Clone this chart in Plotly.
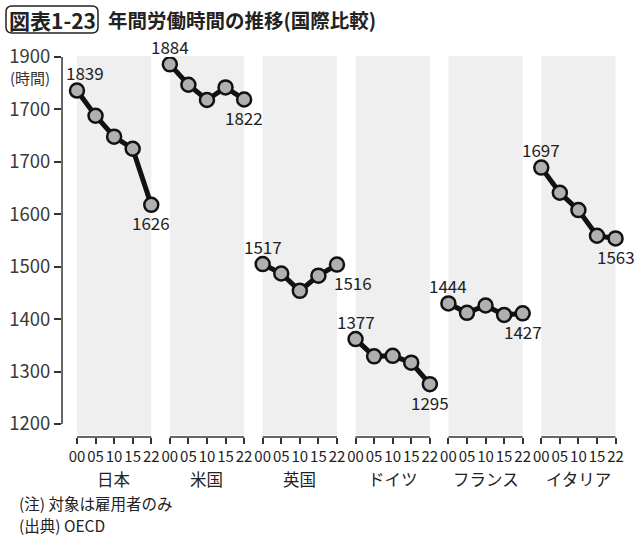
import plotly.graph_objects as go

# ---- data ----
countries = ["日本", "米国", "英国", "ドイツ", "フランス", "イタリア"]
years = ["00", "05", "10", "15", "22"]
japan = [1836, 1788, 1748, 1725, 1618]
usa = [1886, 1847, 1818, 1842, 1819]
uk = [1505, 1487, 1454, 1483, 1504]
germany = [1362, 1329, 1330, 1317, 1276]
france = [1430, 1412, 1426, 1408, 1411]
italy = [1689, 1641, 1608, 1559, 1554]
series = [japan, usa, uk, germany, france, italy]
first_labels = ["1839", "1884", "1517", "1377", "1444", "1697"]
last_labels = ["1626", "1822", "1516", "1295", "1427", "1563"]
ytick_vals = [1200, 1300, 1400, 1500, 1600, 1700, 1800, 1900]
ytick_text = ["1200", "1300", "1400", "1500", "1600", "1700", "1700", "1900"]

FONT = "Noto Sans CJK JP"
W, H = 640, 545
L, R, T, B = 62, 628, 57, 437

def px2x(px):
    return (px - L) / (R - L)

def px2y(py):
    return (B - py) / (B - T)

fig = go.Figure()
shapes = []
annotations = []
tickvals, ticktext = [], []

for i, (name, vals) in enumerate(zip(countries, series)):
    xs = [5 * i + j for j in range(len(years))]
    tickvals += xs
    ticktext += years
    # grey panel
    shapes.append(dict(type="rect", xref="x", yref="paper", x0=xs[0], x1=xs[-1],
                       y0=px2y(435), y1=px2y(56), fillcolor="#efefef",
                       line=dict(width=0), layer="below"))
    # bracket line
    shapes.append(dict(type="line", xref="x", yref="paper", x0=xs[0], x1=xs[-1],
                       y0=0, y1=0, line=dict(color="#333333", width=1.5)))
    fig.add_trace(go.Scatter(
        x=xs, y=vals, mode="lines+markers",
        line=dict(color="#111111", width=5),
        marker=dict(size=14, color="#b0b0b0", line=dict(color="#111111", width=2.5)),
        showlegend=False, hoverinfo="skip"))
    fx = 8 if i == 0 else 0
    lx = 16 if i == 2 else 0
    annotations.append(dict(x=xs[0], y=vals[0], xref="x", yref="y", text=first_labels[i],
                            showarrow=False, xshift=fx, yshift=18, yanchor="middle",
                            font=dict(family=FONT, size=17, color="#222222")))
    annotations.append(dict(x=xs[-1], y=vals[-1], xref="x", yref="y", text=last_labels[i],
                            showarrow=False, xshift=lx, yshift=-18, yanchor="middle",
                            font=dict(family=FONT, size=17, color="#222222")))
    annotations.append(dict(x=xs[2], y=px2y(479), xref="x", yref="paper", text=name,
                            showarrow=False, yanchor="middle", xanchor="center",
                            font=dict(family=FONT, size=16.5, color="#222222")))

# y axis line
shapes.append(dict(type="line", xref="paper", yref="y", x0=0, x1=0, y0=1200, y1=1900,
                   line=dict(color="#333333", width=1.5)))

# title box (rounded)
x0, x1, y0, y1, r = 6, 98, 6, 33, 6
def P(px, py):
    return f"{px2x(px):.5f},{px2y(py):.5f}"
path = (f"M {P(x0 + r, y0)} L {P(x1 - r, y0)} Q {P(x1, y0)} {P(x1, y0 + r)} "
        f"L {P(x1, y1 - r)} Q {P(x1, y1)} {P(x1 - r, y1)} "
        f"L {P(x0 + r, y1)} Q {P(x0, y1)} {P(x0, y1 - r)} "
        f"L {P(x0, y0 + r)} Q {P(x0, y0)} {P(x0 + r, y0)} Z")
shapes.append(dict(type="path", xref="paper", yref="paper", path=path,
                   line=dict(color="#222222", width=1.5)))

def note(px, py, text, size, xanchor="left", bold=False, color="#222222"):
    annotations.append(dict(x=px2x(px), y=px2y(py), xref="paper", yref="paper",
                            text=f"<b>{text}</b>" if bold else text, showarrow=False,
                            xanchor=xanchor, yanchor="middle",
                            font=dict(family=FONT, size=size, color=color)))

note(52, 19.5, "図表1-23", 21, xanchor="center", bold=True)
note(106, 19.5, "年間労働時間の推移(国際比較)", 19.5, bold=True)
note(30, 78, "(時間)", 15, xanchor="center", color="#333333")
note(17, 503, "(注) 対象は雇用者のみ", 15.5)
note(17, 525, "(出典) OECD", 15.5)

fig.update_layout(
    width=W, height=H,
    margin=dict(l=L, r=W - R, t=T, b=H - B),
    paper_bgcolor="white", plot_bgcolor="white",
    shapes=shapes, annotations=annotations,
    xaxis=dict(range=[-0.806, 29.67], tickvals=tickvals, ticktext=ticktext,
               ticks="outside", ticklen=6, tickwidth=1.5, tickcolor="#333333",
               showline=False, showgrid=False, zeroline=False, tickangle=0,
               automargin=False,
               tickfont=dict(family=FONT, size=15, color="#222222")),
    yaxis=dict(range=[1175.2, 1900], tickvals=ytick_vals, ticktext=ytick_text,
               ticks="outside", ticklen=7, tickwidth=1.5, tickcolor="#333333",
               showline=False, showgrid=False, zeroline=False, automargin=False,
               tickfont=dict(family=FONT, size=18.5, color="#3a3a3a")),
)

fig.write_html("out.html")
